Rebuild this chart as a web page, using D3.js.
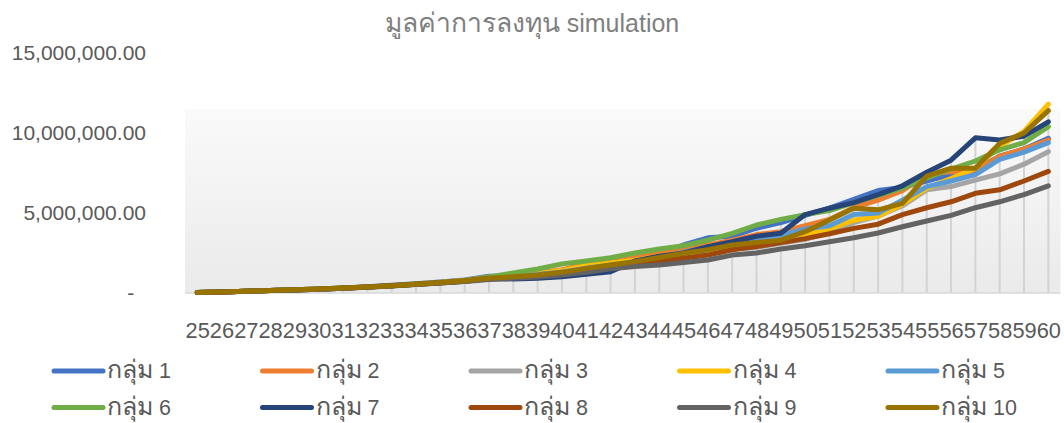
<!DOCTYPE html>
<html>
<head>
<meta charset="utf-8">
<script src="https://cdn.jsdelivr.net/npm/d3@7"></script>
<style>
  html, body { margin: 0; padding: 0; background: #fff; }
  svg text { font-family: "Liberation Sans", Arial, "Noto Sans", "DejaVu Sans", sans-serif; }
</style>
</head>
<body>
<svg id="chart" width="1064" height="423"></svg>
<script>
// Age categories (x axis)
const ages = ["25","26","27","28","29","30","31","32","33","34","35","36",
  "37","38","39","40","41","42","43","44","45","46","47","48",
  "49","50","51","52","53","54","55","56","57","58","59","60"];

// Y-axis tick values
const yTicks = [0, 5000000, 10000000, 15000000];

// Series names and colours
const groupLabel = "กลุ่ม";
const groupNumbers = ["1","2","3","4","5","6","7","8","9","10"];
const groupColors = ["#4472C4","#ED7D31","#A5A5A5","#FFC000","#5B9BD5",
  "#70AD47","#264478","#9E480E","#636363","#997300"];

// Investment value per group, one value per age
const g1 = [30000,70000,110000,150000,200000,250000,310000,390000,480000,580000,690000,810000,1050000,1050000,1100000,1200000,1300000,1380000,2050000,2500000,3000000,3450000,3550000,4050000,4400000,4850000,5300000,5850000,6400000,6600000,7000000,7400000,7700000,8550000,9000000,9670000];
const g2 = [30000,70000,110000,150000,200000,250000,310000,380000,470000,560000,670000,790000,1000000,1100000,1250000,1450000,1800000,1960000,2200000,2500000,2750000,3000000,3300000,3650000,3830000,4200000,4600000,5350000,5800000,6400000,7400000,7600000,7550000,8550000,9000000,9560000];
const g3 = [30000,70000,110000,150000,190000,240000,300000,370000,450000,540000,640000,750000,900000,1000000,1100000,1250000,1450000,1650000,1850000,2050000,2300000,2550000,2750000,2850000,3100000,3350000,3800000,4400000,4800000,5450000,6450000,6650000,7060000,7450000,8050000,8830000];
const g4 = [30000,70000,110000,150000,200000,250000,310000,380000,460000,550000,650000,760000,930000,1050000,1200000,1400000,1700000,1880000,2050000,2300000,2500000,2700000,3000000,3100000,3300000,3700000,4000000,4550000,4800000,5550000,6550000,7150000,7800000,9150000,10100000,11800000];
const g5 = [30000,70000,110000,150000,200000,250000,310000,380000,460000,550000,650000,760000,930000,1030000,1150000,1320000,1550000,1750000,1950000,2200000,2550000,2850000,3100000,3350000,3600000,4000000,4200000,4900000,5000000,5800000,6650000,7000000,7400000,8350000,8800000,9400000];
const g6 = [30000,70000,110000,150000,200000,250000,310000,380000,460000,560000,660000,780000,1000000,1250000,1500000,1820000,2000000,2200000,2500000,2750000,2950000,3300000,3730000,4250000,4600000,4900000,5150000,5650000,6100000,6550000,7200000,7750000,8250000,8950000,9400000,10400000];
const g7 = [30000,70000,110000,150000,190000,240000,300000,370000,450000,540000,640000,740000,900000,880000,920000,1020000,1170000,1330000,2000000,2300000,2500000,2900000,3200000,3550000,3730000,4900000,5300000,5650000,6150000,6700000,7550000,8300000,9700000,9560000,9800000,10700000];
const g8 = [30000,70000,110000,150000,190000,240000,300000,370000,450000,540000,630000,740000,880000,970000,1070000,1200000,1400000,1600000,1850000,2000000,2170000,2370000,2700000,2900000,3150000,3400000,3700000,4040000,4300000,4900000,5330000,5700000,6230000,6450000,7000000,7600000];
const g9 = [30000,70000,110000,150000,190000,240000,290000,360000,440000,530000,620000,720000,850000,920000,1000000,1120000,1300000,1520000,1650000,1750000,1900000,2060000,2370000,2500000,2750000,2950000,3200000,3450000,3750000,4140000,4500000,4850000,5330000,5700000,6150000,6700000];
const g10 = [30000,70000,110000,150000,200000,250000,310000,380000,460000,550000,650000,760000,920000,1020000,1130000,1290000,1540000,1750000,1960000,2220000,2480000,2700000,3000000,3150000,3300000,3830000,4560000,5300000,5200000,5600000,7300000,7800000,7800000,9350000,10000000,11400000];

const series = [g1,g2,g3,g4,g5,g6,g7,g8,g9,g10].map((vals, k) => ({
  num: groupNumbers[k], color: groupColors[k], values: vals
}));

const svg = d3.select("#chart");
const W = 1064;
const plot = { left: 185, right: 1060.5, top: 53, bottom: 293 };

const x = d3.scalePoint().domain(ages).range([plot.left, plot.right]).padding(0.5);
const y = d3.scaleLinear().domain([0, 15000000]).range([plot.bottom, plot.top]);

// Soft grey gradient behind the lines
const defs = svg.append("defs");
const grad = defs.append("linearGradient").attr("id", "bgGrad")
  .attr("x1", 0).attr("y1", 0).attr("x2", 0).attr("y2", 1);
grad.append("stop").attr("offset", "0%").attr("stop-color", "#fafafa");
grad.append("stop").attr("offset", "100%").attr("stop-color", "#eaeaea");

svg.append("rect")
  .attr("x", plot.left).attr("y", y(11500000))
  .attr("width", plot.right - plot.left)
  .attr("height", plot.bottom - y(11500000))
  .attr("fill", "url(#bgGrad)");

// Title
const title = svg.append("text")
  .attr("x", W / 2).attr("y", 32)
  .attr("text-anchor", "middle")
  .attr("fill", "#808080");
title.append("tspan").attr("font-size", 26.5).text("มูลค่าการลงทุน");
title.append("tspan").attr("font-size", 25).text(" simulation");

// Y axis labels
const fmt = d3.format(",.2f");
const yAxis = d3.axisLeft(y).tickValues(yTicks).tickSize(0).tickPadding(0)
  .tickFormat(d => d === 0 ? "-\u00a0\u00a0" : fmt(d));
svg.append("g").attr("transform", `translate(146,0)`).call(yAxis)
  .call(g => g.select(".domain").remove())
  .call(g => g.selectAll("text")
    .attr("font-size", 21).attr("fill", "#595959")
    .style("font-family", '"Liberation Sans", Arial, sans-serif'));

// Drop lines from the highest group down to the axis
svg.append("g").selectAll("line").data(ages).join("line")
  .attr("x1", d => x(d)).attr("x2", d => x(d))
  .attr("y1", (d, i) => y(d3.max(series, s => s.values[i])))
  .attr("y2", plot.bottom)
  .attr("stroke", "#d3d3d3").attr("stroke-width", 2);

// X axis baseline
svg.append("line")
  .attr("x1", plot.left).attr("x2", plot.right)
  .attr("y1", plot.bottom).attr("y2", plot.bottom)
  .attr("stroke", "#d9d9d9").attr("stroke-width", 1.5);

// X axis labels
const xAxis = d3.axisBottom(x).tickSize(0).tickPadding(0);
svg.append("g").attr("transform", `translate(0,${plot.bottom})`).call(xAxis)
  .call(g => g.select(".domain").remove())
  .call(g => g.selectAll("text")
    .attr("y", 45).attr("dy", 0)
    .attr("font-size", 21.8).attr("fill", "#595959")
    .style("font-family", '"Liberation Sans", Arial, sans-serif'));

// Lines
const line = d3.line().x((d, i) => x(ages[i])).y(d => y(d));
svg.append("g").selectAll("path").data(series).join("path")
  .attr("d", s => line(s.values))
  .attr("fill", "none")
  .attr("stroke", s => s.color)
  .attr("stroke-width", 5)
  .attr("stroke-linejoin", "round")
  .attr("stroke-linecap", "round");

// Legend: two rows of five
const legend = svg.append("g");
const colX = k => 54 + k * 208.5;
const rowY = r => 371 + r * 36.5;
const items = legend.selectAll("g").data(series).join("g")
  .attr("transform", (s, i) => `translate(${colX(i % 5)},${rowY(Math.floor(i / 5))})`);
items.append("line")
  .attr("x1", 0).attr("x2", 49).attr("y1", 0).attr("y2", 0)
  .attr("stroke", s => s.color).attr("stroke-width", 5)
  .attr("stroke-linecap", "round");
const lt = items.append("text")
  .attr("x", 53).attr("y", 7)
  .attr("fill", "#595959");
lt.append("tspan").attr("font-size", 25).text(groupLabel);
lt.append("tspan").attr("font-size", 21.5).text(s => " " + s.num);
</script>
</body>
</html>
